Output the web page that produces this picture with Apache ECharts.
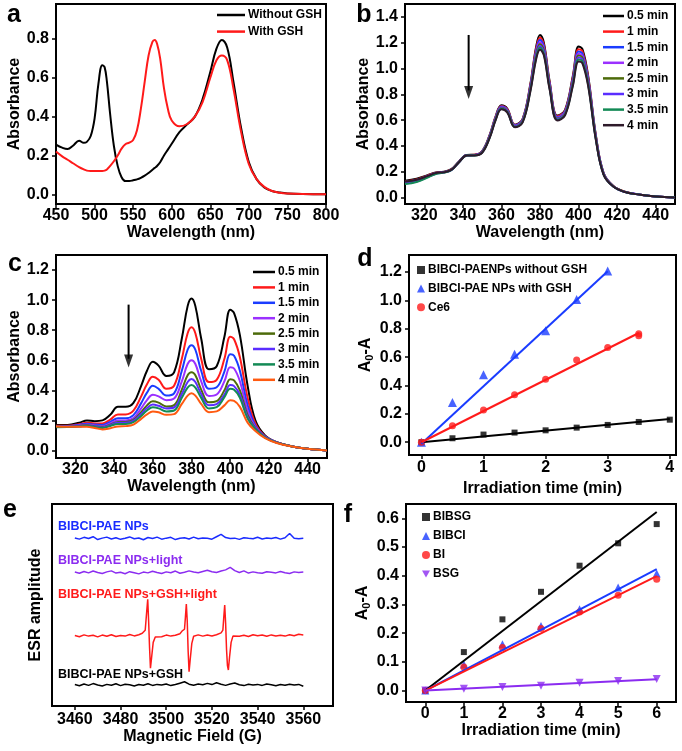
<!DOCTYPE html>
<html><head><meta charset="utf-8">
<script src="https://cdn.jsdelivr.net/npm/echarts@6/dist/echarts.min.js"></script>
<style>html,body{margin:0;padding:0;background:#fff}#c{width:682px;height:751px}</style>
</head><body><div id="c"></div>
<script>
const FONT = "'Liberation Sans', Arial, Helvetica, sans-serif";

// ---------- panel a ----------
const aWave = [450,458,465,472,480,486,490,495,500,505,510,513,516,520,525,530,535,540,545,550,555,560,565,570,575,578,581,585,590,595,600,610,620,630,640,650,658,665,672,680,690,700,710,720,730,740,750,770,800];
const aWithout = [0.256,0.240,0.233,0.250,0.276,0.265,0.270,0.300,0.390,0.570,0.665,0.655,0.580,0.420,0.250,0.145,0.088,0.068,0.068,0.072,0.077,0.085,0.096,0.110,0.126,0.136,0.146,0.165,0.200,0.230,0.260,0.320,0.360,0.400,0.490,0.630,0.750,0.795,0.755,0.580,0.340,0.165,0.078,0.035,0.017,0.009,0.004,0.001,0.000];
const aWith = [0.220,0.195,0.178,0.160,0.140,0.128,0.122,0.120,0.120,0.120,0.120,0.122,0.128,0.145,0.170,0.200,0.235,0.258,0.266,0.280,0.330,0.440,0.580,0.715,0.785,0.795,0.775,0.700,0.545,0.440,0.380,0.350,0.362,0.400,0.475,0.600,0.690,0.715,0.690,0.545,0.320,0.155,0.078,0.038,0.017,0.008,0.004,0.001,0.000];
const aNames = ['Without GSH','With GSH'];

// ---------- panels b & c (shared wavelength grid) ----------
const specW = [310,316,322,326,330,334,338,342,346,350,354,357,360,363,367,371,375,378,380,382,385,389,393,397,400,402,405,409,413,418,424,432,440,450];
const timeNames = ['0.5 min','1 min','1.5 min','2 min','2.5 min','3 min','3.5 min','4 min'];
const b05 = [0.130,0.145,0.175,0.195,0.200,0.220,0.280,0.330,0.332,0.360,0.490,0.630,0.715,0.690,0.565,0.610,0.880,1.170,1.260,1.200,0.900,0.635,0.680,0.940,1.170,1.150,0.940,0.480,0.190,0.090,0.045,0.022,0.008,0.000];
const b1  = [0.125,0.140,0.172,0.193,0.198,0.218,0.278,0.330,0.331,0.358,0.485,0.625,0.710,0.685,0.562,0.606,0.870,1.155,1.240,1.185,0.890,0.630,0.674,0.928,1.150,1.132,0.928,0.474,0.188,0.089,0.045,0.022,0.008,0.000];
const b15 = [0.120,0.136,0.169,0.191,0.197,0.216,0.277,0.329,0.330,0.356,0.481,0.620,0.705,0.680,0.559,0.602,0.862,1.140,1.222,1.170,0.880,0.624,0.667,0.916,1.132,1.115,0.916,0.468,0.186,0.088,0.044,0.022,0.008,0.000];
const b2  = [0.116,0.132,0.166,0.189,0.196,0.215,0.276,0.328,0.329,0.354,0.478,0.616,0.700,0.676,0.556,0.598,0.854,1.126,1.205,1.156,0.871,0.618,0.661,0.905,1.115,1.099,0.905,0.463,0.184,0.088,0.044,0.022,0.008,0.000];
const b25 = [0.112,0.128,0.163,0.187,0.195,0.214,0.275,0.327,0.328,0.352,0.475,0.612,0.696,0.672,0.553,0.594,0.846,1.112,1.190,1.142,0.862,0.613,0.655,0.894,1.100,1.084,0.894,0.458,0.182,0.087,0.044,0.022,0.008,0.000];
const b3  = [0.108,0.124,0.160,0.185,0.194,0.213,0.274,0.326,0.327,0.350,0.472,0.608,0.692,0.668,0.550,0.590,0.838,1.098,1.175,1.128,0.853,0.608,0.649,0.883,1.085,1.069,0.883,0.453,0.180,0.086,0.043,0.022,0.008,0.000];
const b35 = [0.104,0.120,0.157,0.183,0.193,0.212,0.273,0.325,0.326,0.348,0.469,0.604,0.688,0.664,0.547,0.586,0.830,1.085,1.160,1.115,0.845,0.603,0.643,0.872,1.070,1.055,0.872,0.448,0.178,0.085,0.043,0.022,0.008,0.000];
const b4  = [0.125,0.138,0.168,0.190,0.196,0.214,0.274,0.325,0.326,0.347,0.466,0.600,0.684,0.660,0.544,0.582,0.822,1.072,1.145,1.102,0.837,0.598,0.638,0.862,1.055,1.040,0.862,0.444,0.176,0.085,0.043,0.022,0.008,0.000];
const c05 = [0.169,0.170,0.185,0.200,0.195,0.200,0.237,0.290,0.290,0.316,0.430,0.530,0.590,0.564,0.496,0.520,0.745,0.960,1.010,0.960,0.745,0.540,0.560,0.756,0.936,0.914,0.767,0.430,0.200,0.100,0.056,0.027,0.011,0.000];
const c1  = [0.165,0.165,0.175,0.185,0.180,0.180,0.205,0.240,0.240,0.265,0.360,0.440,0.490,0.470,0.410,0.430,0.610,0.780,0.820,0.780,0.610,0.455,0.470,0.610,0.756,0.740,0.620,0.350,0.180,0.095,0.055,0.027,0.011,0.000];
const c15 = [0.160,0.162,0.170,0.178,0.172,0.170,0.190,0.214,0.214,0.235,0.315,0.385,0.430,0.410,0.365,0.380,0.530,0.670,0.700,0.670,0.530,0.410,0.420,0.525,0.640,0.630,0.530,0.300,0.165,0.092,0.054,0.027,0.011,0.000];
const c2  = [0.158,0.160,0.166,0.172,0.166,0.162,0.180,0.200,0.200,0.215,0.280,0.335,0.370,0.360,0.334,0.345,0.460,0.575,0.600,0.575,0.460,0.362,0.372,0.460,0.553,0.545,0.460,0.265,0.155,0.090,0.054,0.027,0.011,0.000];
const c25 = [0.157,0.158,0.163,0.168,0.162,0.157,0.172,0.190,0.190,0.203,0.255,0.300,0.327,0.318,0.293,0.302,0.405,0.500,0.520,0.500,0.405,0.320,0.328,0.400,0.474,0.466,0.400,0.235,0.148,0.088,0.053,0.027,0.011,0.000];
const c3  = [0.156,0.157,0.161,0.165,0.159,0.153,0.168,0.185,0.185,0.197,0.243,0.282,0.305,0.297,0.280,0.286,0.375,0.455,0.475,0.455,0.375,0.300,0.308,0.372,0.435,0.428,0.370,0.222,0.145,0.087,0.053,0.027,0.011,0.000];
const c35 = [0.155,0.156,0.159,0.162,0.156,0.150,0.163,0.176,0.176,0.188,0.230,0.266,0.287,0.280,0.260,0.266,0.350,0.418,0.435,0.418,0.350,0.280,0.288,0.355,0.410,0.404,0.350,0.212,0.142,0.086,0.052,0.027,0.011,0.000];
const c4  = [0.160,0.158,0.158,0.158,0.150,0.140,0.148,0.160,0.162,0.172,0.210,0.240,0.260,0.254,0.237,0.242,0.310,0.365,0.380,0.365,0.310,0.255,0.260,0.300,0.334,0.330,0.290,0.185,0.130,0.082,0.050,0.026,0.011,0.000];
const bArrowShaft = [[343,1.26],[343,0.83]];
const bArrowHead = [[343,0.815]];
const cArrowShaft = [[347.5,0.97],[347.5,0.61]];
const cArrowHead = [[347.5,0.595]];
const bColors = ['#000000','#ff1a1a','#1a3cff','#9b30ff','#4d6b0a','#5a2dff','#138a55','#2e1a2a'];
const cColors = ['#000000','#ff1a1a','#1a3cff','#9b30ff','#4d6b0a','#5a2dff','#138a55','#ff5a10'];

// ---------- panel d ----------
const dNames = ['BIBCI-PAENPs without GSH','BIBCI-PAE NPs with GSH','Ce6'];
const dXBlack = [0,0.5,1,1.5,2,2.5,3,3.5,4];
const dYBlack = [0,0.028,0.054,0.068,0.084,0.103,0.122,0.143,0.159];
const dXBlue = [0,0.5,1,1.5,2,2.5,3];
const dYBlue = [0,0.28,0.475,0.62,0.786,1.006,1.207];
const dXRed = [0,0.5,1,1.5,2,2.5,3,3.5,3.5];
const dYRed = [0,0.117,0.227,0.334,0.444,0.58,0.667,0.75,0.765];
const dFitBlack = [[0,0],[4,0.163]];
const dFitBlue = [[0,-0.01],[3,1.205]];
const dFitRed = [[0,0],[3.5,0.77]];

// ---------- panel e ----------
const eX = [3460,3462,3464,3466,3468,3470,3472,3474,3476,3478,3480,3482,3484,3486,3488,3490,3492,3494,3496,3498,3500,3502,3504,3506,3508,3510,3512,3514,3516,3518,3520,3522,3524,3526,3528,3530,3532,3534,3536,3538,3540,3542,3544,3546,3548,3550,3552,3554,3556,3558,3560];
const eBlue = [83.2,82.6,83.5,82.9,83.8,82.4,83.1,83.6,82.7,83.3, 82.5,83.0,83.7,82.8,83.2,82.3,83.4,82.9,83.6,82.6, 83.1,83.5,82.4,83.0,83.3,82.7,83.6,82.8,83.2,83.0, 82.6,83.8,85.0,83.4,82.9,83.1,82.5,83.3,83.0,82.8, 83.5,82.7,83.2,82.9,83.4,82.6,83.3,85.4,83.0,82.8, 83.1];
const ePurple = [66.3,65.7,66.6,65.9,66.8,66.1,65.6,66.4,66.9,65.8, 66.2,65.5,66.5,66.0,65.4,66.3,65.9,66.7,66.1,65.6, 66.4,66.0,66.8,65.7,66.2,66.9,66.3,66.0,66.6,67.2, 66.5,66.1,66.8,67.4,68.6,67.0,66.1,66.9,65.8,66.4, 66.0,65.7,66.5,66.2,65.9,66.6,66.0,65.6,66.4,66.1, 66.3];
const eBlack = [10.6,10.0,10.9,10.2,11.1,10.4,9.9,10.7,10.3,11.0, 10.1,10.8,10.5,9.9,10.6,10.3,11.0,10.2,10.7,10.4, 10.9,10.1,10.6,11.3,12.0,10.8,10.3,10.9,10.5,11.2, 10.6,11.5,10.8,10.2,10.9,11.4,10.5,10.1,10.8,10.4, 10.7,10.2,10.9,10.5,10.0,10.6,10.3,10.8,10.4,10.7, 9.8];
const eRedX = [3460,3462,3464,3466,3468,3470,3472,3474,3476,3478,3480,3482,3484,3486,3488,3489.5,3490.8,3491.4,3491.9,3492.3,3492.7,3493.1,3493.6,3494.3,3495.2,3496,3498,3500,3502,3504,3506,3507,3508,3508.4,3508.8,3509.2,3509.6,3510,3510.5,3511.2,3512,3514,3516,3518,3520,3522,3524,3524.8,3525.2,3525.6,3526.0,3526.4,3526.8,3527.2,3527.7,3528.4,3529.2,3530,3532,3534,3536,3538,3540,3542,3544,3546,3548,3550,3552,3554,3556,3558,3560];
const eRedY = [34.9,34.3,35.2,34.6,35.0,34.2,35.1,34.5,35.3,34.4,34.9,34.6,35.4,34.7,35.3,36.0,37.5,46,52.8,42,29,18.7,24,31.5,34.2,34.8,34.3,35.1,34.6,35.0,35.8,37.2,38,44,50.5,42,27,17,23,31,34.5,35.2,34.6,35.1,34.7,35.3,36.2,37.6,44,50,41,28,20,17.8,24,31.5,34.6,35.2,34.5,35.0,34.4,35.3,34.8,35.1,34.5,35.2,34.7,35.0,34.6,35.3,34.8,35.5,35.2];
const eLabels = ['BIBCI-PAE NPs','BIBCI-PAE NPs+light','BIBCI-PAE NPs+GSH+light','BIBCI-PAE NPs+GSH'];

// ---------- panel f ----------
const fNames = ['BIBSG','BIBCI','BI','BSG'];
const fX = [0,1,2,3,4,5,6];
const fBIBSG = [0,0.134,0.248,0.344,0.435,0.513,0.58];
const fBIBCI = [0,0.091,0.161,0.225,0.283,0.359,0.408];
const fBI = [0,0.082,0.15,0.216,0.274,0.332,0.388];
const fBSG = [0,0.006,0.012,0.017,0.027,0.033,0.04];
const fFits = [[[0,0],[6,0.622]],[[0,0],[6,0.423]],[[0,0],[6,0.399]],[[0,0],[6,0.039]]];

// ---------- tick values ----------
const aXTicks = [450,500,550,600,650,700,750,800];
const aYTicks = [0,0.2,0.4,0.6,0.8];
const bcXTicks = [320,340,360,380,400,420,440];
const bYTicks = [0,0.2,0.4,0.6,0.8,1.0,1.2,1.4];
const cYTicks = [0,0.2,0.4,0.6,0.8,1.0,1.2];
const dXTicks = [0,1,2,3,4];
const dYTicks = [0,0.2,0.4,0.6,0.8,1.0,1.2];
const eXTicks = [3460,3480,3500,3520,3540,3560];
const fXTicks = [0,1,2,3,4,5,6];
const fYTicks = [0,0.1,0.2,0.3,0.4,0.5,0.6];

const zip = (xs, ys) => xs.map((x, i) => [x, ys[i]]);
const strip = n => n.split('|')[1];
const fmt1 = v => Number(v).toFixed(1);
const fmt0 = v => String(Math.round(v));
const txt = {fontFamily: FONT, fontWeight: 'bold', color: '#000'};

function grid(l, t, w, h) {
  return {left: l, top: t, width: w, height: h, show: true, borderColor: '#000', borderWidth: 2, backgroundColor: 'transparent', containLabel: false, outerBoundsMode: 'none'};
}
function xAx(i, min, max, ticks, name, gap, margin) {
  return {type: 'value', gridIndex: i, min: min, max: max, name: name, nameLocation: 'middle', nameGap: gap,
    nameTextStyle: Object.assign({fontSize: 16}, txt),
    axisLine: {show: true, onZero: false, lineStyle: {color: '#000', width: 2}},
    splitLine: {show: false},
    axisTick: {show: true, inside: false, length: 4, lineStyle: {color: '#000', width: 1.5}, customValues: ticks},
    axisLabel: Object.assign({show: true, margin: margin, fontSize: 16, customValues: ticks, formatter: fmt0}, txt)};
}
function yAx(i, min, max, ticks, name, gap, rich) {
  const o = {type: 'value', gridIndex: i, min: min, max: max, name: name, nameLocation: 'middle', nameGap: gap, nameRotate: 90,
    nameTextStyle: Object.assign({fontSize: 16}, txt),
    axisLine: {show: true, onZero: false, lineStyle: {color: '#000', width: 2}},
    splitLine: {show: false},
    axisTick: ticks ? {show: true, inside: false, length: 4, lineStyle: {color: '#000', width: 1.5}, customValues: ticks} : {show: false},
    axisLabel: ticks ? Object.assign({show: true, margin: 7, fontSize: 16, customValues: ticks, formatter: fmt1}, txt) : {show: false}};
  if (rich) o.nameTextStyle.rich = rich;
  return o;
}
const subRich = {
  a: {fontSize: 16, fontWeight: 'bold', fontFamily: FONT, color: '#000', lineHeight: 20, verticalAlign: 'middle'},
  s: {fontSize: 11, fontWeight: 'bold', fontFamily: FONT, color: '#000', lineHeight: 20, verticalAlign: 'bottom'}
};

const series = [];
// a
[aWithout, aWith].forEach((arr, k) => series.push({type: 'line', name: 'a|' + aNames[k], xAxisIndex: 0, yAxisIndex: 0,
  data: zip(aWave, arr), smooth: 0.4, symbol: 'none', lineStyle: {width: 2, color: ['#000', '#ff1a1a'][k]}, itemStyle: {color: ['#000', '#ff1a1a'][k]}}));
// b
[b05, b1, b15, b2, b25, b3, b35, b4].forEach((arr, k) => series.push({type: 'line', name: 'b|' + timeNames[k], xAxisIndex: 1, yAxisIndex: 1,
  data: zip(specW, arr), smooth: 0.4, symbol: 'none', lineStyle: {width: 2, color: bColors[k]}, itemStyle: {color: bColors[k]}}));
// c
[c05, c1, c15, c2, c25, c3, c35, c4].forEach((arr, k) => series.push({type: 'line', name: 'c|' + timeNames[k], xAxisIndex: 2, yAxisIndex: 2,
  data: zip(specW, arr), smooth: 0.4, symbol: 'none', lineStyle: {width: 2, color: cColors[k]}, itemStyle: {color: cColors[k]}}));
// arrows (b, c)
[[bArrowShaft, bArrowHead, 1], [cArrowShaft, cArrowHead, 2]].forEach((a, k) => {
  series.push({type: 'line', name: 'arrow' + k, xAxisIndex: a[2], yAxisIndex: a[2], data: a[0], symbol: 'none', silent: true, lineStyle: {width: 2, color: '#000'}});
  series.push({type: 'scatter', name: 'arrowhead' + k, xAxisIndex: a[2], yAxisIndex: a[2], data: a[1], symbol: 'triangle', symbolRotate: 180, symbolSize: [9, 13], silent: true, itemStyle: {color: '#000'}});
});
// d
const dCols = ['#000000', '#1a3cff', '#ff1a1a'];
[dFitBlack, dFitBlue, dFitRed].forEach((f, k) => series.push({type: 'line', name: 'dfit' + k, xAxisIndex: 3, yAxisIndex: 3, data: f, symbol: 'none', lineStyle: {width: 2, color: dCols[k]}}));
[[dXBlack, dYBlack, 'rect', 6], [dXBlue, dYBlue, 'triangle', 9], [dXRed, dYRed, 'circle', 7]].forEach((s, k) => series.push({type: 'scatter', name: 'd|' + dNames[k], xAxisIndex: 3, yAxisIndex: 3,
  data: zip(s[0], s[1]), symbol: s[2], symbolSize: s[3], itemStyle: {color: dCols[k]}}));
// e
const eCols = ['#1a2cff', '#8b2cf0', '#ff1a1a', '#000000'];
[[eX, eBlue], [eX, ePurple], [eRedX, eRedY], [eX, eBlack]].forEach((s, k) => series.push({type: 'line', name: 'e' + k, xAxisIndex: 4, yAxisIndex: 4,
  data: zip(s[0], s[1]), symbol: 'none', lineStyle: {width: 1.5, color: eCols[k]}}));
// f
const fCols = ['#000000', '#1a3cff', '#ff1a1a', '#8b2cf0'];
fFits.forEach((f, k) => series.push({type: 'line', name: 'ffit' + k, xAxisIndex: 5, yAxisIndex: 5, data: f, symbol: 'none', lineStyle: {width: 2, color: fCols[k]}}));
[[fBIBSG, 'rect', 6], [fBIBCI, 'triangle', 8], [fBI, 'circle', 7], [fBSG, 'path://M0,0 L10,0 L5,9 Z', 8]].forEach((s, k) => series.push({type: 'scatter', name: 'f|' + fNames[k], xAxisIndex: 5, yAxisIndex: 5,
  data: zip(fX, s[0]), symbol: s[1], symbolSize: s[2], itemStyle: {color: fCols[k]}}));

function leg(items, left, top, iw, ih, gap) {
  return {data: items, left: left, top: top, orient: 'vertical', itemWidth: iw, itemHeight: ih, itemGap: gap, selectedMode: false,
    formatter: strip, padding: 0, textStyle: Object.assign({fontSize: 12, padding: [0, 0, 0, -2]}, txt)};
}
const lineItem = p => n => ({name: p + '|' + n, icon: 'rect'});

const panelLetters = [['a', 14, 15], ['b', 364, 15], ['c', 15, 264], ['d', 365, 259], ['e', 10, 510], ['f', 348, 515]];
const eLabelPos = [[58, 527], [58, 561], [58, 595], [58, 675]];

const graphic = panelLetters.map(p => ({type: 'text', x: p[1], y: p[2], style: {text: p[0], fontSize: 25, fontWeight: 'bold', fontFamily: FONT, fill: '#000', align: 'center', verticalAlign: 'middle'}}));
eLabels.forEach((t, k) => graphic.push({type: 'text', x: eLabelPos[k][0], y: eLabelPos[k][1], style: {text: t, fontSize: 12.5, fontWeight: 'bold', fontFamily: FONT, fill: eCols[k], align: 'left', verticalAlign: 'middle'}}));

const option = {
  animation: false,
  backgroundColor: '#fff',
  grid: [grid(56, 4, 270, 200), grid(405, 4, 270, 200), grid(56, 255, 271, 203), grid(409, 255, 267, 200), grid(52, 504, 281, 202), grid(406, 504, 270, 198)],
  xAxis: [
    xAx(0, 450, 800, aXTicks, 'Wavelength (nm)', 21, 4),
    xAx(1, 310, 450, bcXTicks, 'Wavelength (nm)', 21, 4),
    xAx(2, 310, 450, bcXTicks, 'Wavelength (nm)', 21, 4),
    xAx(3, -0.2, 4.1, dXTicks, 'Irradiation time (min)', 26, 5),
    xAx(4, 3450, 3573, eXTicks, 'Magnetic Field (G)', 23, 6),
    xAx(5, -0.5, 6.5, fXTicks, 'Irradiation time (min)', 21, 4)
  ],
  yAxis: [
    yAx(0, -0.05, 0.98, aYTicks, 'Absorbance', 31),
    yAx(1, -0.05, 1.5, bYTicks, 'Absorbance', 33),
    yAx(2, -0.05, 1.3, cYTicks, 'Absorbance', 30),
    yAx(3, -0.09, 1.32, dYTicks, '{a|A}{s|0}{a|-A}', 30, subRich),
    yAx(4, 0, 100, null, 'ESR amplitude', 8),
    yAx(5, -0.04, 0.65, fYTicks, '{a|A}{s|0}{a|-A}', 25, subRich)
  ],
  legend: [
    leg(aNames.map(lineItem('a')), 217, 9, 28, 2.5, 4.6),
    leg(timeNames.map(lineItem('b')), 603, 10, 21, 2.5, 3.6),
    leg(timeNames.map(lineItem('c')), 253, 266, 22, 2.5, 3.4),
    leg(dNames.map(n => 'd|' + n), 417, 264, 8, 8, 6.6),
    leg(fNames.map(n => 'f|' + n), 422, 511, 8, 8, 7)
  ],
  graphic: graphic,
  series: series
};
const chart = echarts.init(document.getElementById('c'), null, {renderer: 'canvas'});
chart.setOption(option);
</script>
</body></html>
